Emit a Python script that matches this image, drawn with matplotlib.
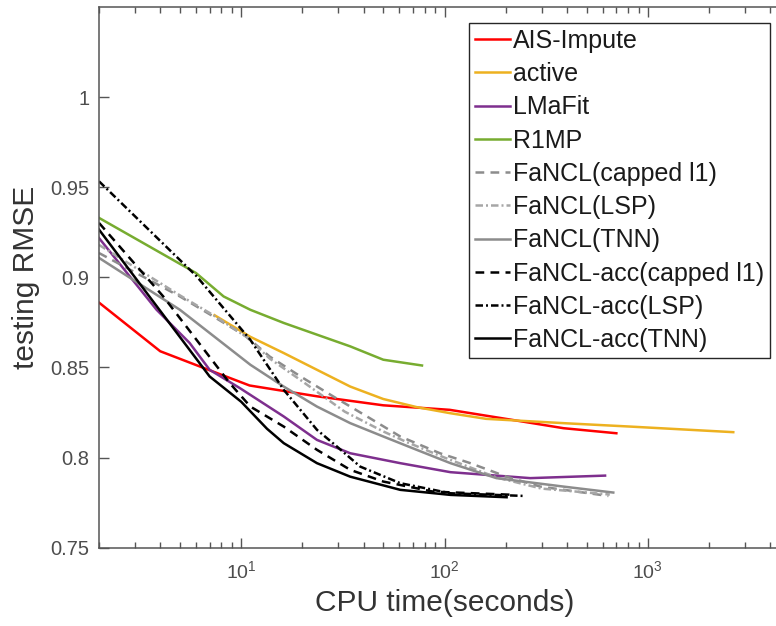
#!/usr/bin/env python

import matplotlib
matplotlib.use('Agg')
import matplotlib.pyplot as plt

plt.rcParams['font.family'] = ['Liberation Sans', 'DejaVu Sans']

# CPU time (seconds) and testing RMSE
ais_t = [2.0, 4.0, 6.8, 11.0, 23.6, 50, 106, 200, 385, 700]
ais_rmse = [0.886, 0.859, 0.849, 0.840, 0.834, 0.829, 0.8265, 0.8215, 0.8163, 0.8135]

active_t = [7.4, 11.1, 16.2, 23.6, 34.4, 50, 73, 107, 160, 400, 820, 2630]
active_rmse = [0.879, 0.867, 0.858, 0.8487, 0.8394, 0.8325, 0.828, 0.8246, 0.8215, 0.819, 0.8172, 0.8141]

lmafit_t = [2.0, 3.84, 5.58, 7.0, 9.84, 16.2, 23.6, 34.4, 60.6, 107, 264, 616]
lmafit_rmse = [0.9218, 0.882, 0.8636, 0.8487, 0.8386, 0.8228, 0.8098, 0.8024, 0.7969, 0.7919, 0.7886, 0.790]

r1mp_t = [2.0, 6.0, 8.2, 11.1, 16.2, 23.6, 34.4, 50, 77.5]
r1mp_rmse = [0.933, 0.9024, 0.8894, 0.882, 0.8747, 0.8682, 0.8617, 0.8543, 0.8511]

fancl_capped_t = [2.0, 5.0, 7.3, 10.6, 13.8, 19.6, 28.4, 41.6, 60.6, 95, 134, 202, 296, 640]
fancl_capped_rmse = [0.9135, 0.8894, 0.8783, 0.8672, 0.8561, 0.845, 0.8339, 0.8228, 0.8117,
                     0.8024, 0.7969, 0.7894, 0.7839, 0.7787]

fancl_lsp_t = [2.0, 5.0, 7.3, 10.6, 13.8, 19.6, 32.3, 50, 65.5, 100, 180, 300, 650]
fancl_lsp_rmse = [0.918, 0.890, 0.879, 0.867, 0.855, 0.843, 0.8255, 0.8145, 0.8085, 0.800,
                  0.789, 0.7828, 0.7795]

fancl_tnn_t = [2.0, 5.0, 11.1, 16.2, 23.6, 34.4, 50, 73, 107, 180, 385, 676]
fancl_tnn_rmse = [0.9108, 0.882, 0.8515, 0.8394, 0.8283, 0.8191, 0.8117, 0.8043, 0.7969, 0.7886,
                  0.7839, 0.7806]

acc_capped_t = [2.0, 4.14, 8.79, 11.1, 16.2, 23.6, 34.4, 50, 88, 222]
acc_capped_rmse = [0.9302, 0.8894, 0.8413, 0.8283, 0.8172, 0.8043, 0.7932, 0.7867, 0.7811, 0.7793]

acc_lsp_t = [2.0, 6.04, 11.1, 16.2, 23.6, 29.6, 38.5, 60.6, 107, 249]
acc_lsp_rmse = [0.9533, 0.9006, 0.8653, 0.8376, 0.8154, 0.8061, 0.795, 0.7858, 0.7802, 0.7787]

acc_tnn_t = [2.0, 7.0, 10.0, 13.4, 16.2, 23.6, 34.4, 60.6, 107, 202]
acc_tnn_rmse = [0.9265, 0.845, 0.831, 0.816, 0.808, 0.7969, 0.7894, 0.7821, 0.7793, 0.778]

y_ticks = [0.75, 0.8, 0.85, 0.9, 0.95, 1.0]
y_tick_labels = ['0.75', '0.8', '0.85', '0.9', '0.95', '1']

axis_gray = '#555555'
lw = 1.8

fig = plt.figure(figsize=(7.76, 6.26), dpi=100)
# right edge of the axes runs past the figure, as in the cropped original
ax = fig.add_axes([99 / 776, 78.3 / 626, 691 / 776, 540.7 / 626])

ax.plot(ais_t, ais_rmse, color='#ff0000', lw=lw, label='AIS-Impute')
ax.plot(active_t, active_rmse, color='#edb120', lw=lw, label='active')
ax.plot(lmafit_t, lmafit_rmse, color='#7e2f8e', lw=lw, label='LMaFit')
ax.plot(r1mp_t, r1mp_rmse, color='#77ac30', lw=lw, label='R1MP')
ax.plot(fancl_capped_t, fancl_capped_rmse, color='#8c8c8c', lw=lw, dashes=(3.5, 2.5),
        label='FaNCL(capped l1)')
ax.plot(fancl_lsp_t, fancl_lsp_rmse, color='#a6a6a6', lw=lw, dashes=(3.0, 1.2, 0.8, 1.2),
        label='FaNCL(LSP)')
ax.plot(fancl_tnn_t, fancl_tnn_rmse, color='#8c8c8c', lw=lw, label='FaNCL(TNN)')
ax.plot(acc_capped_t, acc_capped_rmse, color='black', lw=lw, dashes=(3.5, 2.5),
        label='FaNCL-acc(capped l1)')
ax.plot(acc_lsp_t, acc_lsp_rmse, color='black', lw=lw, dashes=(3.0, 1.2, 0.8, 1.2),
        label='FaNCL-acc(LSP)')
ax.plot(acc_tnn_t, acc_tnn_rmse, color='black', lw=lw, label='FaNCL-acc(TNN)')

ax.set_xscale('log')
ax.set_xlim(2, 5000)
ax.set_ylim(0.75, 1.05)
ax.set_yticks(y_ticks)
ax.set_yticklabels(y_tick_labels)
ax.set_xlabel('CPU time(seconds)', fontsize=21.5, color='#333333', labelpad=5)
ax.set_ylabel('testing RMSE', fontsize=21.5, color='#333333', labelpad=7)

for side in ax.spines:
    ax.spines[side].set_color(axis_gray)
    ax.spines[side].set_linewidth(1.1)
ax.tick_params(which='both', direction='in', top=True, right=True, color=axis_gray,
               labelcolor='#4d4d4d', width=1.0)
ax.tick_params(which='major', length=7)
ax.tick_params(which='minor', length=4)
ax.tick_params(axis='y', labelsize=14.5, pad=7)
ax.tick_params(axis='x', labelsize=14, pad=9)

leg = ax.legend(loc='upper left', bbox_to_anchor=(469 / 776, 1 - 22.7 / 626),
                bbox_transform=fig.transFigure, borderaxespad=0, fontsize=18,
                frameon=True, fancybox=False, framealpha=1, handlelength=1.4,
                handletextpad=0.1, borderpad=0.25, labelspacing=0.37)
leg.get_frame().set_edgecolor('#262626')
leg.get_frame().set_linewidth(1.0)
for text in leg.get_texts():
    text.set_color('#1a1a1a')

fig.savefig('out.png', dpi=100)
